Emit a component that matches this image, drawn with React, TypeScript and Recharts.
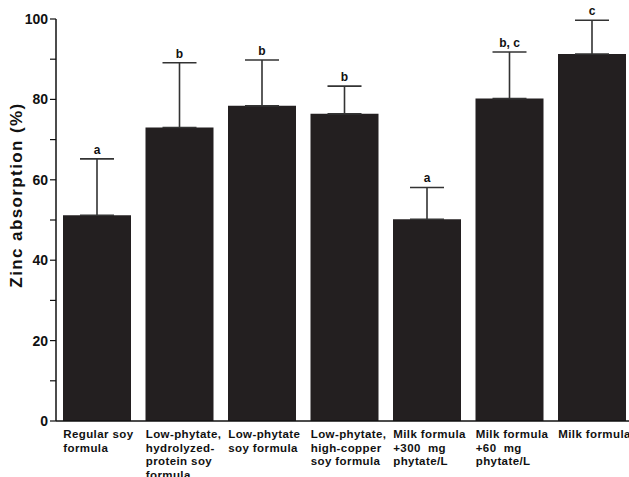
import React from 'react';
import { BarChart, Bar, XAxis, YAxis, ErrorBar, LabelList } from 'recharts';

const categories = [
  'Regular soy formula',
  'Low-phytate, hydrolyzed-protein soy formula',
  'Low-phytate soy formula',
  'Low-phytate, high-copper soy formula',
  'Milk formula +300 mg phytate/L',
  'Milk formula +60 mg phytate/L',
  'Milk formula',
];
const categoryLines = [
  ['Regular soy', 'formula'],
  ['Low-phytate,', 'hydrolyzed-', 'protein soy', 'formula'],
  ['Low-phytate', 'soy formula'],
  ['Low-phytate,', 'high-copper', 'soy formula'],
  ['Milk formula', '+300  mg', 'phytate/L'],
  ['Milk formula', '+60  mg', 'phytate/L'],
  ['Milk formula'],
];
const absorption = [51.2, 73.0, 78.4, 76.4, 50.2, 80.2, 91.3];
const sdUpper = [14.0, 16.1, 11.4, 6.9, 7.9, 11.6, 8.4];
const letters = ['a', 'b', 'b', 'b', 'a', 'b, c', 'c'];
const yTicks = [0, 10, 20, 30, 40, 50, 60, 70, 80, 90, 100];

const data = categories.map((c, i) => ({
  name: c,
  value: absorption[i],
  err: [0, sdUpper[i]],
  idx: i,
}));

const FONT = '"Liberation Sans", Arial, Helvetica, sans-serif';

const XTick = (props: any) => {
  const { x, payload } = props;
  const i = categories.indexOf(payload.value);
  const lines = categoryLines[i] || [];
  return (
    <g>
      {lines.map((l, k) => (
        <text
          key={k}
          x={x - 34}
          y={438 + k * 13.5}
          textAnchor="start"
          fontFamily={FONT}
          fontWeight="bold"
          fontSize={11.5}
          fill="#111"
          style={{ letterSpacing: '0.4px', whiteSpace: 'pre' }}
        >
          {l}
        </text>
      ))}
    </g>
  );
};

const LetterLabel = (props: any) => {
  const { x, y, width, height, index } = props;
  const v = absorption[index];
  const capY = y - (sdUpper[index] * height) / v;
  return (
    <text
      x={x + width / 2}
      y={capY - 5}
      textAnchor="middle"
      fontFamily={FONT}
      fontWeight="bold"
      fontSize={12}
      fill="#111"
    >
      {letters[index]}
    </text>
  );
};

export default function App() {
  return (
    <div
      style={{
        position: 'fixed',
        left: 0,
        top: 0,
        width: 629,
        height: 477,
        overflow: 'hidden',
        background: '#fff',
      }}
    >
      <BarChart
        width={650}
        height={477}
        data={data}
        margin={{ top: 19, right: 16.5, left: 0, bottom: 0 }}
        barSize={68}
      >
        <XAxis
          dataKey="name"
          height={56}
          tickLine={false}
          axisLine={{ stroke: '#111', strokeWidth: 1.5 }}
          tick={<XTick />}
          interval={0}
        />
        <YAxis
          width={56}
          domain={[0, 100]}
          ticks={yTicks}
          interval={0}
          tickSize={6}
          tickMargin={2}
          tickLine={{ stroke: '#111', strokeWidth: 1.2 }}
          axisLine={{ stroke: '#111', strokeWidth: 1.5 }}
          tickFormatter={(v: number) => (v % 20 === 0 ? String(v) : '')}
          tick={{ fontFamily: FONT, fontWeight: 'bold', fontSize: 14, fill: '#111' }}
          label={{
            value: 'Zinc absorption (%)',
            angle: -90,
            position: 'insideLeft',
            dx: 11,
            dy: -25,
            style: {
              fontFamily: FONT,
              fontWeight: 'bold',
              fontSize: 17,
              letterSpacing: '1.4px',
              fill: '#111',
              textAnchor: 'middle',
            },
          }}
        />
        <Bar dataKey="value" fill="#231f20" isAnimationActive={false}>
          <ErrorBar dataKey="err" width={17} stroke="#333" strokeWidth={1.6} direction="y" />
          <LabelList dataKey="value" content={<LetterLabel />} />
        </Bar>
      </BarChart>
    </div>
  );
}
